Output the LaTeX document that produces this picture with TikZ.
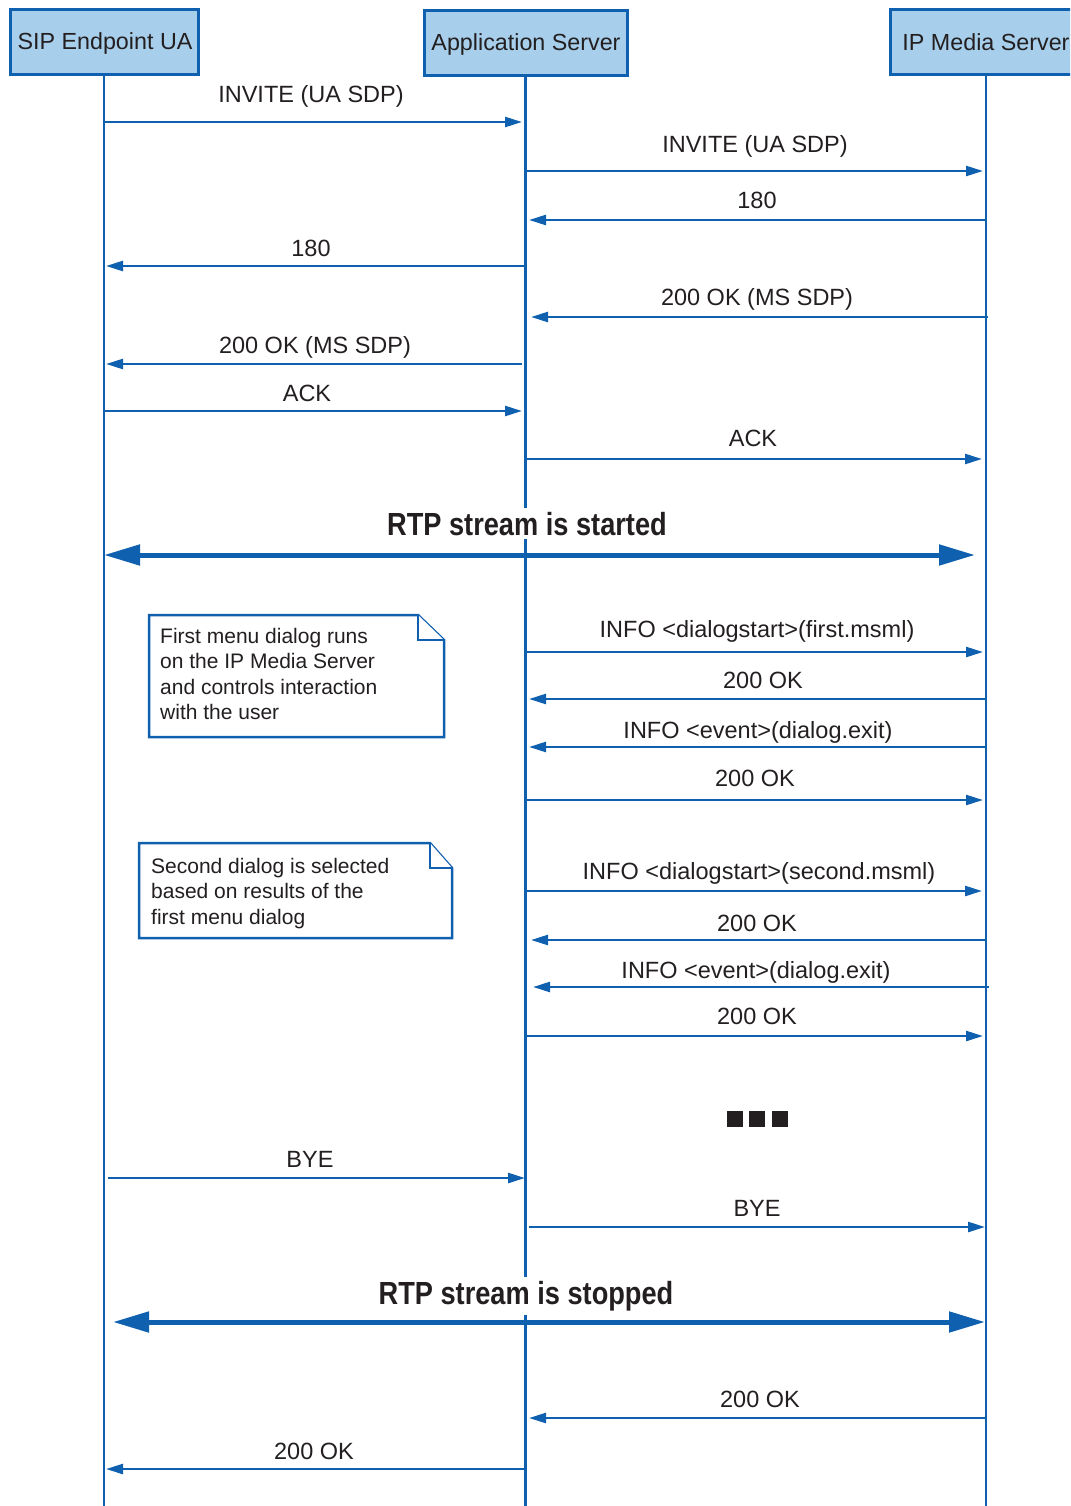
\documentclass[tikz,border=0pt]{standalone}
\usepackage{fontspec}
\setmainfont{Liberation Sans}
\newfontfamily\condfont{Liberation Sans}[FakeStretch=0.85]
\usetikzlibrary{arrows.meta}

\definecolor{seqblue}{RGB}{16,96,176}
\definecolor{boxfill}{RGB}{167,206,235}
\definecolor{ink}{RGB}{35,31,32}

\begin{document}
\begin{tikzpicture}[x=1pt,y=-1pt,
  actor/.style={draw=seqblue,line width=3pt,fill=boxfill,minimum height=65pt,
    inner sep=0pt,text=ink,font=\fontsize{23.3}{28}\selectfont},
  actortext/.style={text=ink,inner sep=0pt,anchor=base,font=\fontsize{23.3}{28}\selectfont},
  lifeline/.style={draw=seqblue,line width=2.6pt},
  msg/.style={draw=seqblue,line width=2.5pt,-{Triangle[length=17pt,width=10pt]}},
  rtp/.style={draw=seqblue,line width=5pt,
    {Triangle[length=36pt,width=20pt]}-{Triangle[length=36pt,width=20pt]}},
  lbl/.style={text=ink,font=\fontsize{23.5}{27}\selectfont,anchor=base,inner sep=0pt},
  rtplbl/.style={text=ink,fill=white,inner sep=4pt,anchor=base,
    font=\fontsize{32}{36}\condfont\bfseries},
  note/.style={draw=seqblue,line width=2.5pt,fill=white,line join=miter},
  notetext/.style={text=ink,align=left,inner sep=0pt,anchor=north west,
    font=\fontsize{21}{25.4}\selectfont},
  dot/.style={fill=ink,minimum size=16pt,inner sep=0pt}
]
\useasboundingbox (0,0) rectangle (1070,1506);
\clip (0,0) rectangle (1070,1506);

% participants (boxes, then their titles on a common baseline)
\node[actor,minimum width=188pt] (ua) at (104,42.5) {};
\node[actor,minimum width=203pt] (as) at (525.5,43.5) {};
\node[actor,minimum width=192pt] (ms) at (986,42.5) {};
\node[actortext] (uat) at (105,49.5) {SIP Endpoint UA};
\node[actortext] (ast) at (526,50.5) {Application Server};
\node[actortext] (mst) at (986,51) {IP Media Server};

% lifelines
\coordinate (bot) at (0,1506);
\draw[lifeline] (ua.south) -- (ua.south |- bot);
\draw[lifeline] (as.south) -- (as.south |- bot);
\draw[lifeline] (ms.south) -- (ms.south |- bot);

% messages: line y / start x / end x / label x / label baseline / text
\foreach \y/\xa/\xb/\lx/\ly/\t [count=\i] in {
  122/104/522/311/103/{INVITE (UA SDP)},
  171/527/983/755/153/{INVITE (UA SDP)},
  220/986/529/757/209/{180},
  266/524/106/311/257/{180},
  317/988/531/757/305/{200 OK (MS SDP)},
  364/522/106/315/353/{200 OK (MS SDP)},
  411/104/522/307/401/{ACK},
  459/525/982/753/446/{ACK},
  652/527/983/757/637/{INFO <dialogstart>(first.msml)},
  699/986/529/763/688/{200 OK},
  747/986/529/758/738/{INFO <event>(dialog.exit)},
  800/527/983/755/786/{200 OK},
  891/525/982/759/879/{INFO <dialogstart>(second.msml)},
  940/986/531/757/931/{200 OK},
  987/989/533/756/978/{INFO <event>(dialog.exit)},
  1036/527/983/757/1024/{200 OK},
  1178/108/525/310/1167/{BYE},
  1227/529/985/757/1216/{BYE},
  1418/986/529/760/1407/{200 OK},
  1469/524/106/314/1459/{200 OK}}
{
  \coordinate (s\i) at (\xa,\y);
  \coordinate (e\i) at (\xb,\y);
  \draw[msg] (s\i) -- (e\i);
  \node[lbl] (l\i) at (\lx,\ly) {\t};
}

% RTP stream start / stop
\node[rtplbl] (rtpon) at (527,535) {RTP stream is started};
\coordinate (rtpa) at (104,555);
\coordinate (rtpb) at (975,555);
\draw[rtp] (rtpa) -- (rtpb);

\node[rtplbl] (rtpoff) at (526,1304) {RTP stream is stopped};
\coordinate (rtpc) at (113,1322);
\coordinate (rtpd) at (985,1322);
\draw[rtp] (rtpc) -- (rtpd);

% notes with folded corner
\draw[note] (149,615) -- (418,615) -- (444,640) -- (444,737) -- (149,737) -- cycle;
\draw[note] (418,615) -- (418,640) -- (444,640);
\node[notetext] (n1) at (160,628)
  {First menu dialog runs\\on the IP Media Server\\and controls interaction\\with the user};

\draw[note] (139,843) -- (430,843) -- (452,868) -- (452,938) -- (139,938) -- cycle;
\draw[note] (430,843) -- (430,868) -- (452,868);
\node[notetext] (n2) at (151,858)
  {Second dialog is selected\\based on results of the\\first menu dialog};

% continuation marks
\node[dot] (d1) at (735,1118.5) {};
\node[dot] (d2) at (757,1118.5) {};
\node[dot] (d3) at (780,1118.5) {};
\end{tikzpicture}
\end{document}
